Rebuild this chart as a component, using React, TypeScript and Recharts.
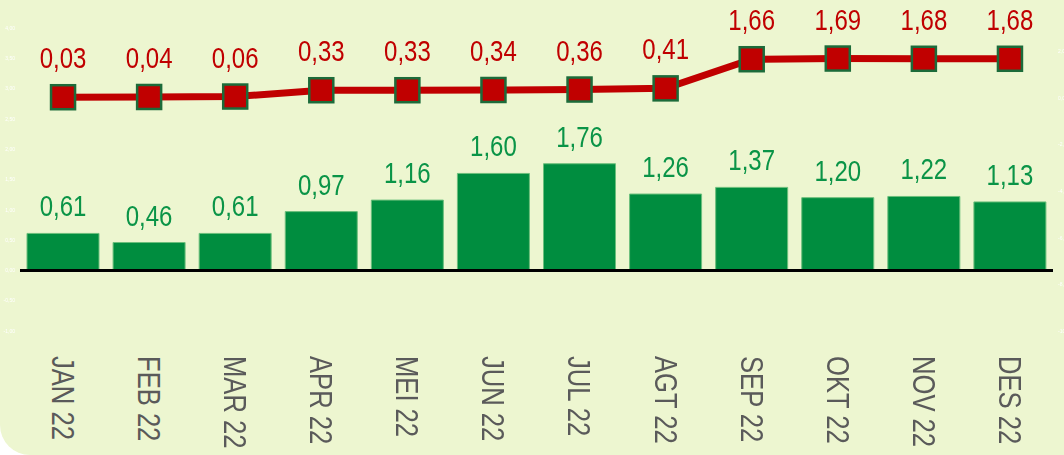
import {
  ComposedChart,
  Bar,
  Line,
  XAxis,
  YAxis,
  ReferenceLine,
  LabelList,
} from "recharts";

const months = ["JAN 22", "FEB 22", "MAR 22", "APR 22", "MEI 22", "JUN 22", "JUL 22", "AGT 22", "SEP 22", "OKT 22", "NOV 22", "DES 22"];
const monthly = [0.61, 0.46, 0.61, 0.97, 1.16, 1.6, 1.76, 1.26, 1.37, 1.2, 1.22, 1.13];
const cumulative = [0.03, 0.04, 0.06, 0.33, 0.33, 0.34, 0.36, 0.41, 1.66, 1.69, 1.68, 1.68];
const leftTicks = [-1, -0.5, 0, 0.5, 1, 1.5, 2, 2.5, 3, 3.5, 4];
const rightTicks = [-10, -8, -6, -4, -2, 0, 2];

const data = months.map((m, i) => ({ month: m, monthly: monthly[i], cumulative: cumulative[i] }));

const fmt = (v: number) => v.toFixed(2).replace(".", ",");
const FONT = "'Liberation Sans', Arial, sans-serif";
// narrow look of the original labels
const SQUEEZE = 0.8;

const MonthTick = (props: any) => {
  const { x, y, payload } = props;
  return (
    <text
      transform={`translate(${x},${y + 17}) rotate(90) scale(${SQUEEZE},1)`}
      textAnchor="start"
      dominantBaseline="central"
      fill="#5a5a5a"
      fontSize={32}
      fontFamily={FONT}
    >
      {payload.value}
    </text>
  );
};

const BarValue = (props: any) => {
  const { x, y, width, value } = props;
  return (
    <text
      transform={`translate(${x + width / 2},${y - 17}) scale(${SQUEEZE},1)`}
      textAnchor="middle"
      fill="#0a9447"
      fontSize={30}
      fontFamily={FONT}
    >
      {fmt(value)}
    </text>
  );
};

const LineValue = (props: any) => {
  const { x, y, value } = props;
  return (
    <text
      transform={`translate(${x},${y - 29}) scale(${SQUEEZE},1)`}
      textAnchor="middle"
      fill="#c00000"
      fontSize={30}
      fontFamily={FONT}
    >
      {fmt(value)}
    </text>
  );
};

const SquareDot = (props: any) => {
  const { cx, cy, index } = props;
  return (
    <rect key={index} x={cx - 12} y={cy - 12} width={24} height={24} fill="#c00000" stroke="#1c6b3a" strokeWidth={2.5} />
  );
};

export default function App() {
  return (
    <div
      style={{
        position: "fixed",
        left: 0,
        top: 0,
        width: 1064,
        height: 455,
        background: "#edf6d0",
        borderBottomLeftRadius: 30,
        overflow: "hidden",
      }}
    >
      <ComposedChart width={1064} height={455} data={data} margin={{ top: 28, right: 0, bottom: 0, left: 0 }} barCategoryGap={7}>
        <XAxis dataKey="month" height={124} axisLine={false} tickLine={false} tick={<MonthTick />} interval={0} />
        <YAxis
          yAxisId="left"
          width={20}
          domain={[-1, 4]}
          ticks={leftTicks}
          tickFormatter={fmt}
          axisLine={false}
          tickLine={false}
          tickSize={3}
          tick={{ fontSize: 5, fill: "#ffffff", fontFamily: "Liberation Sans" }}
        />
        <YAxis
          yAxisId="right"
          orientation="right"
          width={11}
          domain={[-10, 3]}
          ticks={rightTicks}
          tickFormatter={fmt}
          axisLine={false}
          tickLine={false}
          tickSize={3}
          tick={{ fontSize: 5, fill: "#ffffff", fontFamily: "Liberation Sans", textAnchor: "start" }}
        />
        <Bar yAxisId="left" dataKey="monthly" fill="#008d3f" stroke="#6cbf7c" strokeWidth={1} isAnimationActive={false}>
          <LabelList dataKey="monthly" content={<BarValue />} />
        </Bar>
        <ReferenceLine yAxisId="left" y={0} stroke="#000000" strokeWidth={3} />
        <Line
          yAxisId="right"
          dataKey="cumulative"
          type="linear"
          stroke="#c00000"
          strokeWidth={7}
          dot={<SquareDot />}
          activeDot={false}
          isAnimationActive={false}
        >
          <LabelList dataKey="cumulative" content={<LineValue />} />
        </Line>
      </ComposedChart>
    </div>
  );
}
